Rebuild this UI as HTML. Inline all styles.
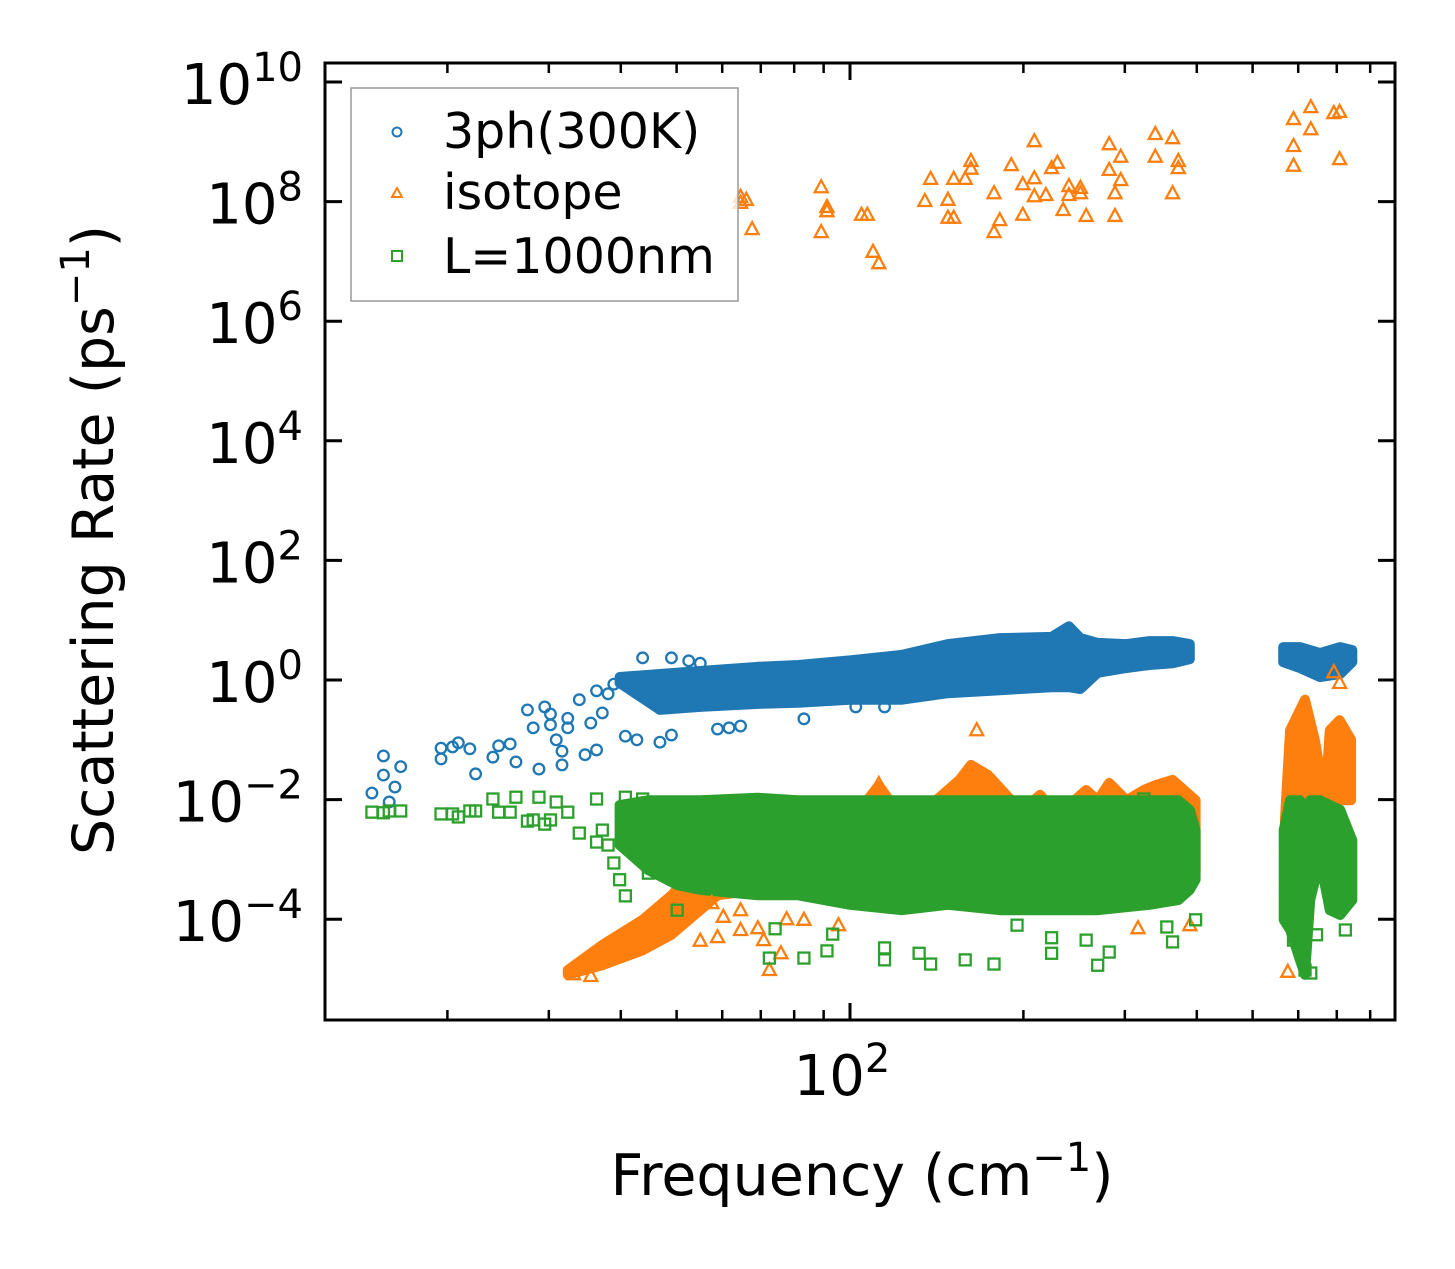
<!DOCTYPE html>
<html><head><meta charset="utf-8"><style>
html,body{margin:0;padding:0;background:#fff;}
svg{display:block;font-family:"DejaVu Sans","Liberation Sans",sans-serif;}
</style></head><body>
<svg id="chart" width="1455" height="1269" viewBox="0 0 1455 1269" xmlns="http://www.w3.org/2000/svg">
<rect width="1455" height="1269" fill="#fff"/>
<g id="bands"></g>
<g id="marks"></g>
<g id="axes"></g>
<g>
  <rect x="351" y="88" width="387" height="213" fill="#fff" fill-opacity="0.8" stroke="#999" stroke-width="1.5"/>
  <circle cx="397" cy="132" r="4.5" fill="none" stroke="#1f77b4" stroke-width="2"/>
  <text x="443" y="148" font-size="49">3ph(300K)</text>
  <polygon points="397,188 402,197 392,197" fill="none" stroke="#ff7f0e" stroke-width="2"/>
  <text x="443" y="209" font-size="49">isotope</text>
  <rect x="392" y="251" width="10" height="10" fill="none" stroke="#2ca02c" stroke-width="2"/>
  <text x="443" y="273" font-size="49">L=1000nm</text>
</g>
<text x="862" y="1195" font-size="57" text-anchor="middle">Frequency (cm<tspan dy="-24" font-size="40">−1</tspan><tspan dy="24">)</tspan></text>
<text transform="translate(113,540) rotate(-90)" font-size="57" text-anchor="middle">Scattering Rate (ps<tspan dy="-24" font-size="40">−1</tspan><tspan dy="24">)</tspan></text>
</svg>
<script>
// ---- data (log10 frequency in cm^-1, log10 rate in ps^-1) ----
const yTickExponents = [10, 8, 6, 4, 2, 0, -2, -4];
const xMajorExponents = [2];
const xMinorValues = [20, 30, 40, 50, 60, 70, 80, 90, 200, 300, 400, 500, 600, 700, 800];

const ph3LogF = [1.17,1.19,1.19,1.21,1.22,1.20,1.29,1.29,1.31,1.32,1.34,1.35,1.38,1.39,1.41,1.42,1.46,1.44,1.45,1.47,1.48,1.48,1.50,1.49,1.50,1.51,1.51,1.53,1.54,1.56,1.55,1.57,1.56,1.58,1.59,1.61,1.63,1.67,1.69,1.64,1.69,1.72,1.74,1.77,1.79,1.81,1.92,2.01,2.06];
const ph3LogR = [-1.89,-1.27,-1.59,-1.79,-1.45,-2.04,-1.32,-1.14,-1.12,-1.05,-1.15,-1.57,-1.29,-1.10,-1.07,-1.37,-1.49,-0.50,-0.80,-0.45,-0.57,-0.75,-1.42,-1.00,-1.19,-0.64,-0.80,-0.33,-1.25,-1.17,-0.72,-0.55,-0.18,-0.23,-0.07,-0.94,-1.00,-1.04,-0.92,0.37,0.37,0.32,0.28,-0.82,-0.80,-0.77,-0.65,-0.45,-0.45];
const ph3BandA_F = [1.60,1.67,1.74,1.84,1.91,2.00,2.09,2.17,2.26,2.35,2.38,2.40,2.43,2.48,2.52,2.56,2.59];
const ph3BandA_Lo = [-0.05,-0.50,-0.45,-0.40,-0.38,-0.33,-0.33,-0.22,-0.17,-0.12,-0.12,-0.15,0.12,0.20,0.25,0.28,0.35];
const ph3BandA_Hi = [0.05,0.10,0.15,0.22,0.25,0.33,0.42,0.60,0.70,0.72,0.90,0.70,0.62,0.60,0.65,0.65,0.60];
const ph3BandB_F = [2.752,2.781,2.816,2.851,2.872];
const ph3BandB_Lo = [0.30,0.20,0.05,0.10,0.30];
const ph3BandB_Hi = [0.55,0.55,0.45,0.55,0.50];

const isoLogF = [1.81,1.82,1.81,1.83,1.95,1.96,1.96,1.95,2.02,2.03,2.04,2.05,2.14,2.13,2.17,2.17,2.18,2.18,2.20,2.21,2.21,2.25,2.25,2.26,2.28,2.30,2.30,2.32,2.32,2.32,2.34,2.35,2.36,2.38,2.38,2.37,2.40,2.40,2.41,2.45,2.47,2.45,2.47,2.46,2.46,2.53,2.56,2.53,2.57,2.57,2.56,2.77,2.80,2.80,2.77,2.77,2.84,2.85,2.85,
  2.22,2.84,2.85,2.76,2.59,2.50,1.74,1.77,1.76,1.81,1.81,1.84,1.85,1.86,1.88,1.89,1.92,1.98,2.05,1.52,1.55,1.78];
const isoLogR = [8.08,8.03,7.98,7.54,8.24,7.91,7.84,7.49,7.78,7.78,7.16,6.97,8.38,8.01,8.03,7.73,7.73,8.38,8.38,8.55,8.68,8.14,7.49,7.69,8.61,8.29,7.78,9.01,8.39,8.09,8.11,8.56,8.65,8.26,8.11,7.86,8.23,8.14,7.76,8.96,8.75,8.53,8.36,8.14,7.76,9.13,9.06,8.75,8.68,8.56,8.14,9.38,9.58,9.21,8.93,8.60,9.48,9.50,8.71,
  -0.84,0.13,-0.05,-4.88,-4.10,-4.15,-4.36,-4.30,-3.73,-3.85,-4.18,-4.15,-4.35,-4.85,-4.57,-4.00,-4.01,-4.10,-1.74,-4.92,-4.95,-3.96];
const isoBandA_F = [1.51,1.57,1.64,1.69,1.74,1.77,1.84,1.91,2.00,2.03,2.05,2.08,2.12,2.19,2.21,2.24,2.28,2.31,2.33,2.36,2.39,2.41,2.43,2.45,2.48,2.51,2.53,2.56,2.58,2.60];
const isoBandA_Hi = [-4.85,-4.43,-4.01,-3.60,-3.09,-2.93,-2.84,-2.59,-2.51,-2.01,-1.76,-2.17,-2.26,-1.67,-1.42,-1.59,-2.01,-2.09,-1.92,-2.26,-2.01,-1.84,-2.01,-1.72,-2.01,-1.84,-1.76,-1.67,-1.84,-2.01];
const isoBandA_Lo = [-4.93,-4.77,-4.52,-4.26,-3.85,-3.60,-3.51,-3.34,-3.18,-3.01,-3.01,-3.01,-3.01,-3.18,-3.18,-3.18,-3.18,-3.18,-3.18,-3.18,-3.18,-3.18,-3.18,-3.18,-3.18,-3.18,-3.18,-3.18,-3.18,-3.18];
const isoBandB_F = [2.755,2.764,2.79,2.807,2.825,2.833,2.85,2.87];
const isoBandB_Hi = [-2.34,-0.84,-0.33,-1.00,-2.01,-0.84,-0.67,-1.00];
const isoBandB_Lo = [-2.51,-2.51,-2.01,-2.01,-2.01,-2.01,-2.01,-2.01];

const bdyLogF = [1.17,1.19,1.20,1.22,1.29,1.31,1.32,1.34,1.35,1.38,1.39,1.41,1.42,1.44,1.45,1.46,1.47,1.48,1.49,1.51,1.53,1.56,1.56,1.57,1.58,1.59,1.61,1.61,1.64,1.65,1.60,1.66,1.70,1.87,1.86,1.92,1.96,1.97,2.06,2.06,2.12,2.14,2.20,2.25,2.35,2.35,2.43,2.45,2.41,2.29,2.55,2.56,2.60,2.51,2.77,2.79,2.80,2.86,2.81];
const bdyLogR = [-2.21,-2.22,-2.19,-2.19,-2.24,-2.24,-2.29,-2.19,-2.19,-1.99,-2.21,-2.21,-1.96,-2.36,-2.34,-1.96,-2.41,-2.34,-2.04,-2.21,-2.56,-1.99,-2.71,-2.51,-2.76,-3.06,-1.96,-3.61,-1.99,-3.23,-3.34,-2.06,-3.85,-4.16,-4.65,-4.65,-4.53,-4.25,-4.68,-4.48,-4.57,-4.75,-4.68,-4.75,-4.57,-4.31,-4.77,-4.55,-4.35,-4.10,-4.13,-4.38,-4.01,-1.99,-4.35,-4.85,-4.90,-4.18,-4.26];
const bdyBandA_F = [1.60,1.65,1.70,1.74,1.84,1.91,2.00,2.09,2.17,2.26,2.35,2.43,2.52,2.57,2.59,2.60];
const bdyBandA_Hi = [-2.09,-2.01,-2.01,-2.01,-1.97,-2.01,-2.01,-2.01,-2.01,-2.01,-2.01,-2.01,-2.01,-2.01,-2.17,-2.51];
const bdyBandA_Lo = [-2.76,-3.18,-3.43,-3.51,-3.60,-3.60,-3.76,-3.85,-3.76,-3.85,-3.85,-3.85,-3.76,-3.68,-3.51,-3.34];
const bdyBandB_F = [2.753,2.764,2.781,2.790,2.799,2.816,2.833,2.851,2.872];
const bdyBandB_Hi = [-2.51,-2.01,-2.01,-2.17,-2.01,-2.01,-2.09,-2.17,-2.68];
const bdyBandB_Lo = [-4.01,-4.18,-4.68,-4.93,-3.68,-3.01,-3.85,-3.93,-3.68];

// ---- axes ----
const PL = 325, PR = 1395, PT = 63, PB = 1020;
const X0 = 850, XPD = 576;
const Y0 = 680, YPD = 59.8;
function xs(lf){ return X0 + (lf - 2) * XPD; }
function ys(lr){ return Y0 - lr * YPD; }
const NS = "http://www.w3.org/2000/svg";
function mk(tag, attrs, parent){
  const e = document.createElementNS(NS, tag);
  for (const k in attrs) e.setAttribute(k, attrs[k]);
  parent.appendChild(e); return e;
}
const bands = document.getElementById('bands');
const marks = document.getElementById('marks');
const axes = document.getElementById('axes');
const C3 = '#1f77b4', CI = '#ff7f0e', CB = '#2ca02c';

function band(F, lo, hi, color, name){
  const pts = [];
  for (let i = 0; i < F.length; i++) pts.push(xs(F[i]).toFixed(1) + ',' + ys(hi[i]).toFixed(1));
  for (let i = F.length - 1; i >= 0; i--) pts.push(xs(F[i]).toFixed(1) + ',' + ys(lo[i]).toFixed(1));
  const p = mk('polygon', {points: pts.join(' '), fill: color, stroke: color, 'stroke-width': 10, 'stroke-linejoin': 'round'}, bands);
  
  
}
function circles(F, R){
  for (let i = 0; i < F.length; i++){
    const c = mk('circle', {cx: xs(F[i]), cy: ys(R[i]), r: 5.3, fill: 'none', stroke: C3, 'stroke-width': 2.3}, marks);
    
    
  }
}
function triangles(F, R){
  for (let i = 0; i < F.length; i++){
    const x = xs(F[i]), y = ys(R[i]);
    const t = mk('polygon', {points: x + ',' + (y - 7) + ' ' + (x + 6.5) + ',' + (y + 5) + ' ' + (x - 6.5) + ',' + (y + 5), fill: 'none', stroke: CI, 'stroke-width': 2.3}, marks);
    
    
  }
}
function squares(F, R){
  for (let i = 0; i < F.length; i++){
    const s = mk('rect', {x: xs(F[i]) - 5.5, y: ys(R[i]) - 5.5, width: 11, height: 11, fill: 'none', stroke: CB, 'stroke-width': 2.3}, marks);
    
    
  }
}
band(ph3BandA_F, ph3BandA_Lo, ph3BandA_Hi, C3, 'band-3ph-acoustic');
band(ph3BandB_F, ph3BandB_Lo, ph3BandB_Hi, C3, 'band-3ph-optical');
circles(ph3LogF, ph3LogR);
band(isoBandA_F, isoBandA_Lo, isoBandA_Hi, CI, 'band-isotope-acoustic');
band(isoBandB_F, isoBandB_Lo, isoBandB_Hi, CI, 'band-isotope-optical');
triangles(isoLogF, isoLogR);
band(bdyBandA_F, bdyBandA_Lo, bdyBandA_Hi, CB, 'band-boundary-acoustic');
band(bdyBandB_F, bdyBandB_Lo, bdyBandB_Hi, CB, 'band-boundary-optical');
squares(bdyLogF, bdyLogR);

const fr = mk('rect', {x: PL, y: PT, width: PR - PL, height: PB - PT, fill: 'none', stroke: '#000', 'stroke-width': 3}, axes);



yTickExponents.forEach(function(e){
  const y = ys(e);
  const t1 = mk('line', {x1: PL, x2: PL + 17, y1: y, y2: y, stroke: '#000', 'stroke-width': 3}, axes);
  
  
  const t2 = mk('line', {x1: PR - 17, x2: PR, y1: y, y2: y, stroke: '#000', 'stroke-width': 3}, axes);
  
  
  const tx = mk('text', {x: 303, y: y + 22, 'font-size': 56, 'text-anchor': 'end'}, axes);
  
  
  const s1 = mk('tspan', {}, tx); s1.textContent = '10';
  const s2 = mk('tspan', {dy: -23, 'font-size': 40}, tx); s2.textContent = String(e).replace('-', '−');
});
xMajorExponents.forEach(function(e){
  const x = xs(e);
  const a = mk('line', {x1: x, x2: x, y1: PB, y2: PB - 17, stroke: '#000', 'stroke-width': 3}, axes);
  
  
  const b = mk('line', {x1: x, x2: x, y1: PT, y2: PT + 17, stroke: '#000', 'stroke-width': 3}, axes);
  
  
  const tx = mk('text', {x: x - 8, y: 1095, 'font-size': 56, 'text-anchor': 'middle'}, axes);
  
  
  const s1 = mk('tspan', {}, tx); s1.textContent = '10';
  const s2 = mk('tspan', {dy: -23, 'font-size': 40}, tx); s2.textContent = String(e);
});
xMinorValues.forEach(function(v){
  const x = xs(Math.log10(v));
  const a = mk('line', {x1: x, x2: x, y1: PB, y2: PB - 10, stroke: '#000', 'stroke-width': 2.5}, axes);
  
  
  const b = mk('line', {x1: x, x2: x, y1: PT, y2: PT + 10, stroke: '#000', 'stroke-width': 2.5}, axes);
  
  
});
</script>
</body></html>
